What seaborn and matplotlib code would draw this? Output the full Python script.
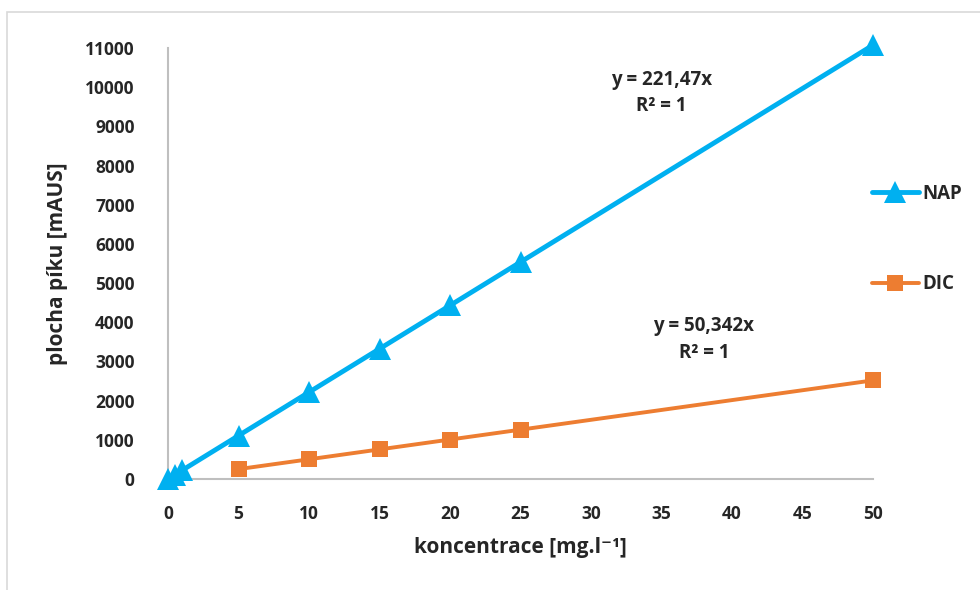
import matplotlib
matplotlib.use("Agg")
import matplotlib.pyplot as plt
from matplotlib.patches import Rectangle
import seaborn as sns
import pandas as pd

# hodnoty
nap_x = [0, 0.5, 1, 5, 10, 15, 20, 25, 50]
nap_y = [0, 110, 221, 1107, 2215, 3322, 4429, 5537, 11074]
dic_x = [5, 10, 15, 20, 25, 50]
dic_y = [252, 503, 755, 1007, 1259, 2517]
x_ticks = [0, 5, 10, 15, 20, 25, 30, 35, 40, 45, 50]
y_ticks = list(range(0, 12000, 1000))

nap = pd.DataFrame({"x": nap_x, "y": nap_y})
dic = pd.DataFrame({"x": dic_x, "y": dic_y})

sns.set_theme(style="white")
plt.rcParams["font.family"] = ["Open Sans", "DejaVu Sans"]
plt.rcParams["font.weight"] = "bold"

fig = plt.figure(figsize=(9.8, 5.9), dpi=100)
ax = fig.add_axes([168 / 980, 1 - 479 / 590, 705 / 980, 431 / 590])

# ramecek grafu
fig.patches.append(Rectangle((7 / 980, -0.05), 1.1, 1 - 12 / 590 + 0.05,
                             transform=fig.transFigure, fill=False,
                             edgecolor="#d9d9d9", linewidth=1.2))

sns.lineplot(data=nap, x="x", y="y", ax=ax, color="#00B0F0", linewidth=3.5,
             marker="^", markersize=16, markeredgewidth=0, label="NAP",
             clip_on=False, zorder=3)
sns.lineplot(data=dic, x="x", y="y", ax=ax, color="#ED7D31", linewidth=2.8,
             marker="s", markersize=12, markeredgewidth=0, label="DIC",
             clip_on=False, zorder=3)

ax.set_xlim(0, 50)
ax.set_ylim(0, 11000)
ax.set_xticks(x_ticks)
ax.set_yticks(y_ticks)
ax.tick_params(axis="both", length=0, labelsize=12.5)
ax.tick_params(axis="x", pad=19)
ax.tick_params(axis="y", pad=24)
for lab in ax.get_xticklabels() + ax.get_yticklabels():
    lab.set_fontweight("bold")

for s in ["top", "right"]:
    ax.spines[s].set_visible(False)
for s in ["left", "bottom"]:
    ax.spines[s].set_color("#bfbfbf")
    ax.spines[s].set_linewidth(1.5)

ax.set_xlabel("koncentrace [mg.l⁻¹]", fontsize=15, fontweight="bold", labelpad=10)
ax.set_ylabel("plocha píku [mAUS]", fontsize=15, fontweight="bold", labelpad=12)

ax.text(35, 9850, "y = 221,47x\nR² = 1", ha="center", va="center",
        fontsize=13.5, fontweight="bold", linespacing=1.45)
ax.text(38, 3560, "y = 50,342x\nR² = 1", ha="center", va="center",
        fontsize=13.5, fontweight="bold", linespacing=1.45)

ax.legend(loc="center left", bbox_to_anchor=(855 / 980, 1 - 239 / 590),
          bbox_transform=fig.transFigure, frameon=False,
          labelspacing=3.75, handlelength=2.5, handletextpad=0.2,
          prop={"weight": "bold", "size": 13.5})

fig.savefig("out.png", dpi=100, facecolor="white")
